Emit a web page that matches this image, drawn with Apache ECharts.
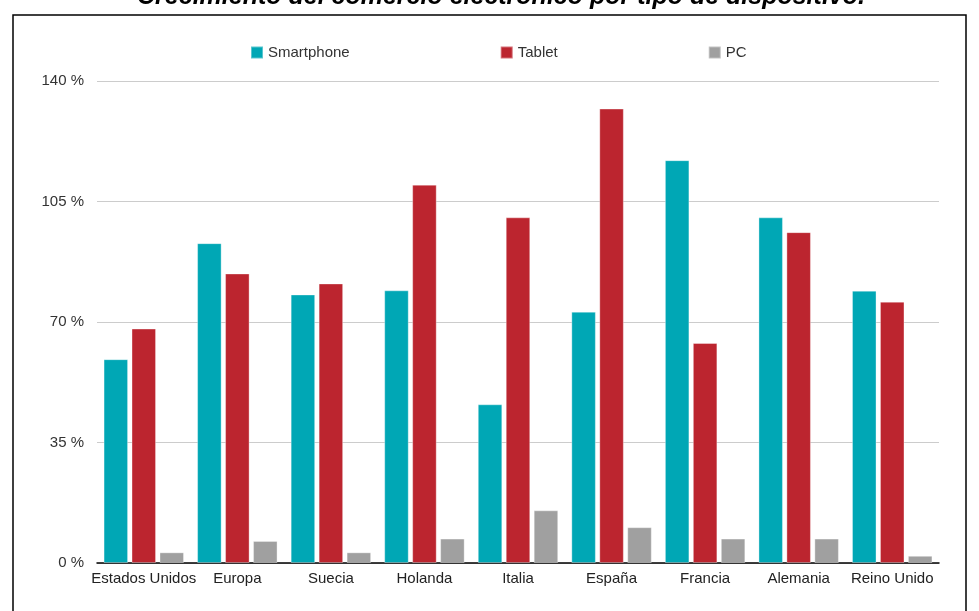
<!DOCTYPE html>
<html>
<head>
<meta charset="utf-8">
<script src="https://cdn.jsdelivr.net/npm/echarts@6/dist/echarts.min.js"></script>
<style>
html,body{margin:0;padding:0;background:#fff;}
#chart{width:979px;height:611px;}
</style>
</head>
<body>
<div id="chart"></div>
<script>
const titleText = 'Crecimiento del comercio electrónico por tipo de dispositivo.';
const categories = ['Estados Unidos', 'Europa', 'Suecia', 'Holanda', 'Italia', 'España', 'Francia', 'Alemania', 'Reino Unido'];
const seriesNames = ['Smartphone', 'Tablet', 'PC'];
const smartphone = [59.2, 92.9, 78.0, 79.2, 46.1, 73.0, 117.0, 100.4, 79.1];
const tablet = [68.1, 84.1, 81.2, 109.9, 100.4, 132.0, 63.9, 96.1, 75.9];
const pc = [3.1, 6.4, 3.1, 7.1, 15.3, 10.4, 7.1, 7.1, 2.1];
const yTicks = [0, 35, 70, 105, 140];
const colors = ['#00A7B5', '#BC252F', '#A0A0A0'];

const chart = echarts.init(document.getElementById('chart'), null, {renderer: 'canvas'});
const values = [smartphone, tablet, pc];
chart.setOption({
  animation: false,
  textStyle: {fontFamily: 'Liberation Sans, Arial, sans-serif'},
  graphic: [
    {type: 'rect', shape: {x: 13, y: 15, width: 953, height: 620},
     style: {fill: 'none', stroke: '#000', lineWidth: 1.5}, silent: true},
    {type: 'text', x: 501, y: 10,
     style: {text: titleText, fill: '#000', align: 'center', verticalAlign: 'bottom',
             font: 'italic bold 25px "Liberation Sans", Arial, sans-serif'}}
  ],
  legend: {
    top: 40, left: 245,
    itemWidth: 12, itemHeight: 12, itemGap: 150,
    icon: 'rect',
    textStyle: {fontSize: 15, color: '#333'},
    data: seriesNames
  },
  grid: {left: 97, right: 40, top: 81, bottom: 48, containLabel: false},
  xAxis: {
    type: 'category',
    data: categories,
    axisLine: {lineStyle: {color: '#000', width: 1.5}},
    axisTick: {show: false},
    axisLabel: {fontSize: 15, color: '#222', margin: 8, interval: 0}
  },
  yAxis: {
    type: 'value',
    min: yTicks[0], max: yTicks[yTicks.length - 1], interval: 35,
    axisLine: {show: false},
    axisTick: {show: false},
    splitLine: {lineStyle: {color: '#cccccc', width: 1}},
    axisLabel: {formatter: '{value} %', fontSize: 15, color: '#333', margin: 13}
  },
  series: seriesNames.map((n, i) => ({
    name: n,
    type: 'bar',
    data: values[i],
    barCategoryGap: '14%',
    barGap: '14%',
    itemStyle: {color: colors[i], borderColor: 'rgba(255,255,255,0.35)', borderWidth: 1}
  }))
});
</script>
</body>
</html>
